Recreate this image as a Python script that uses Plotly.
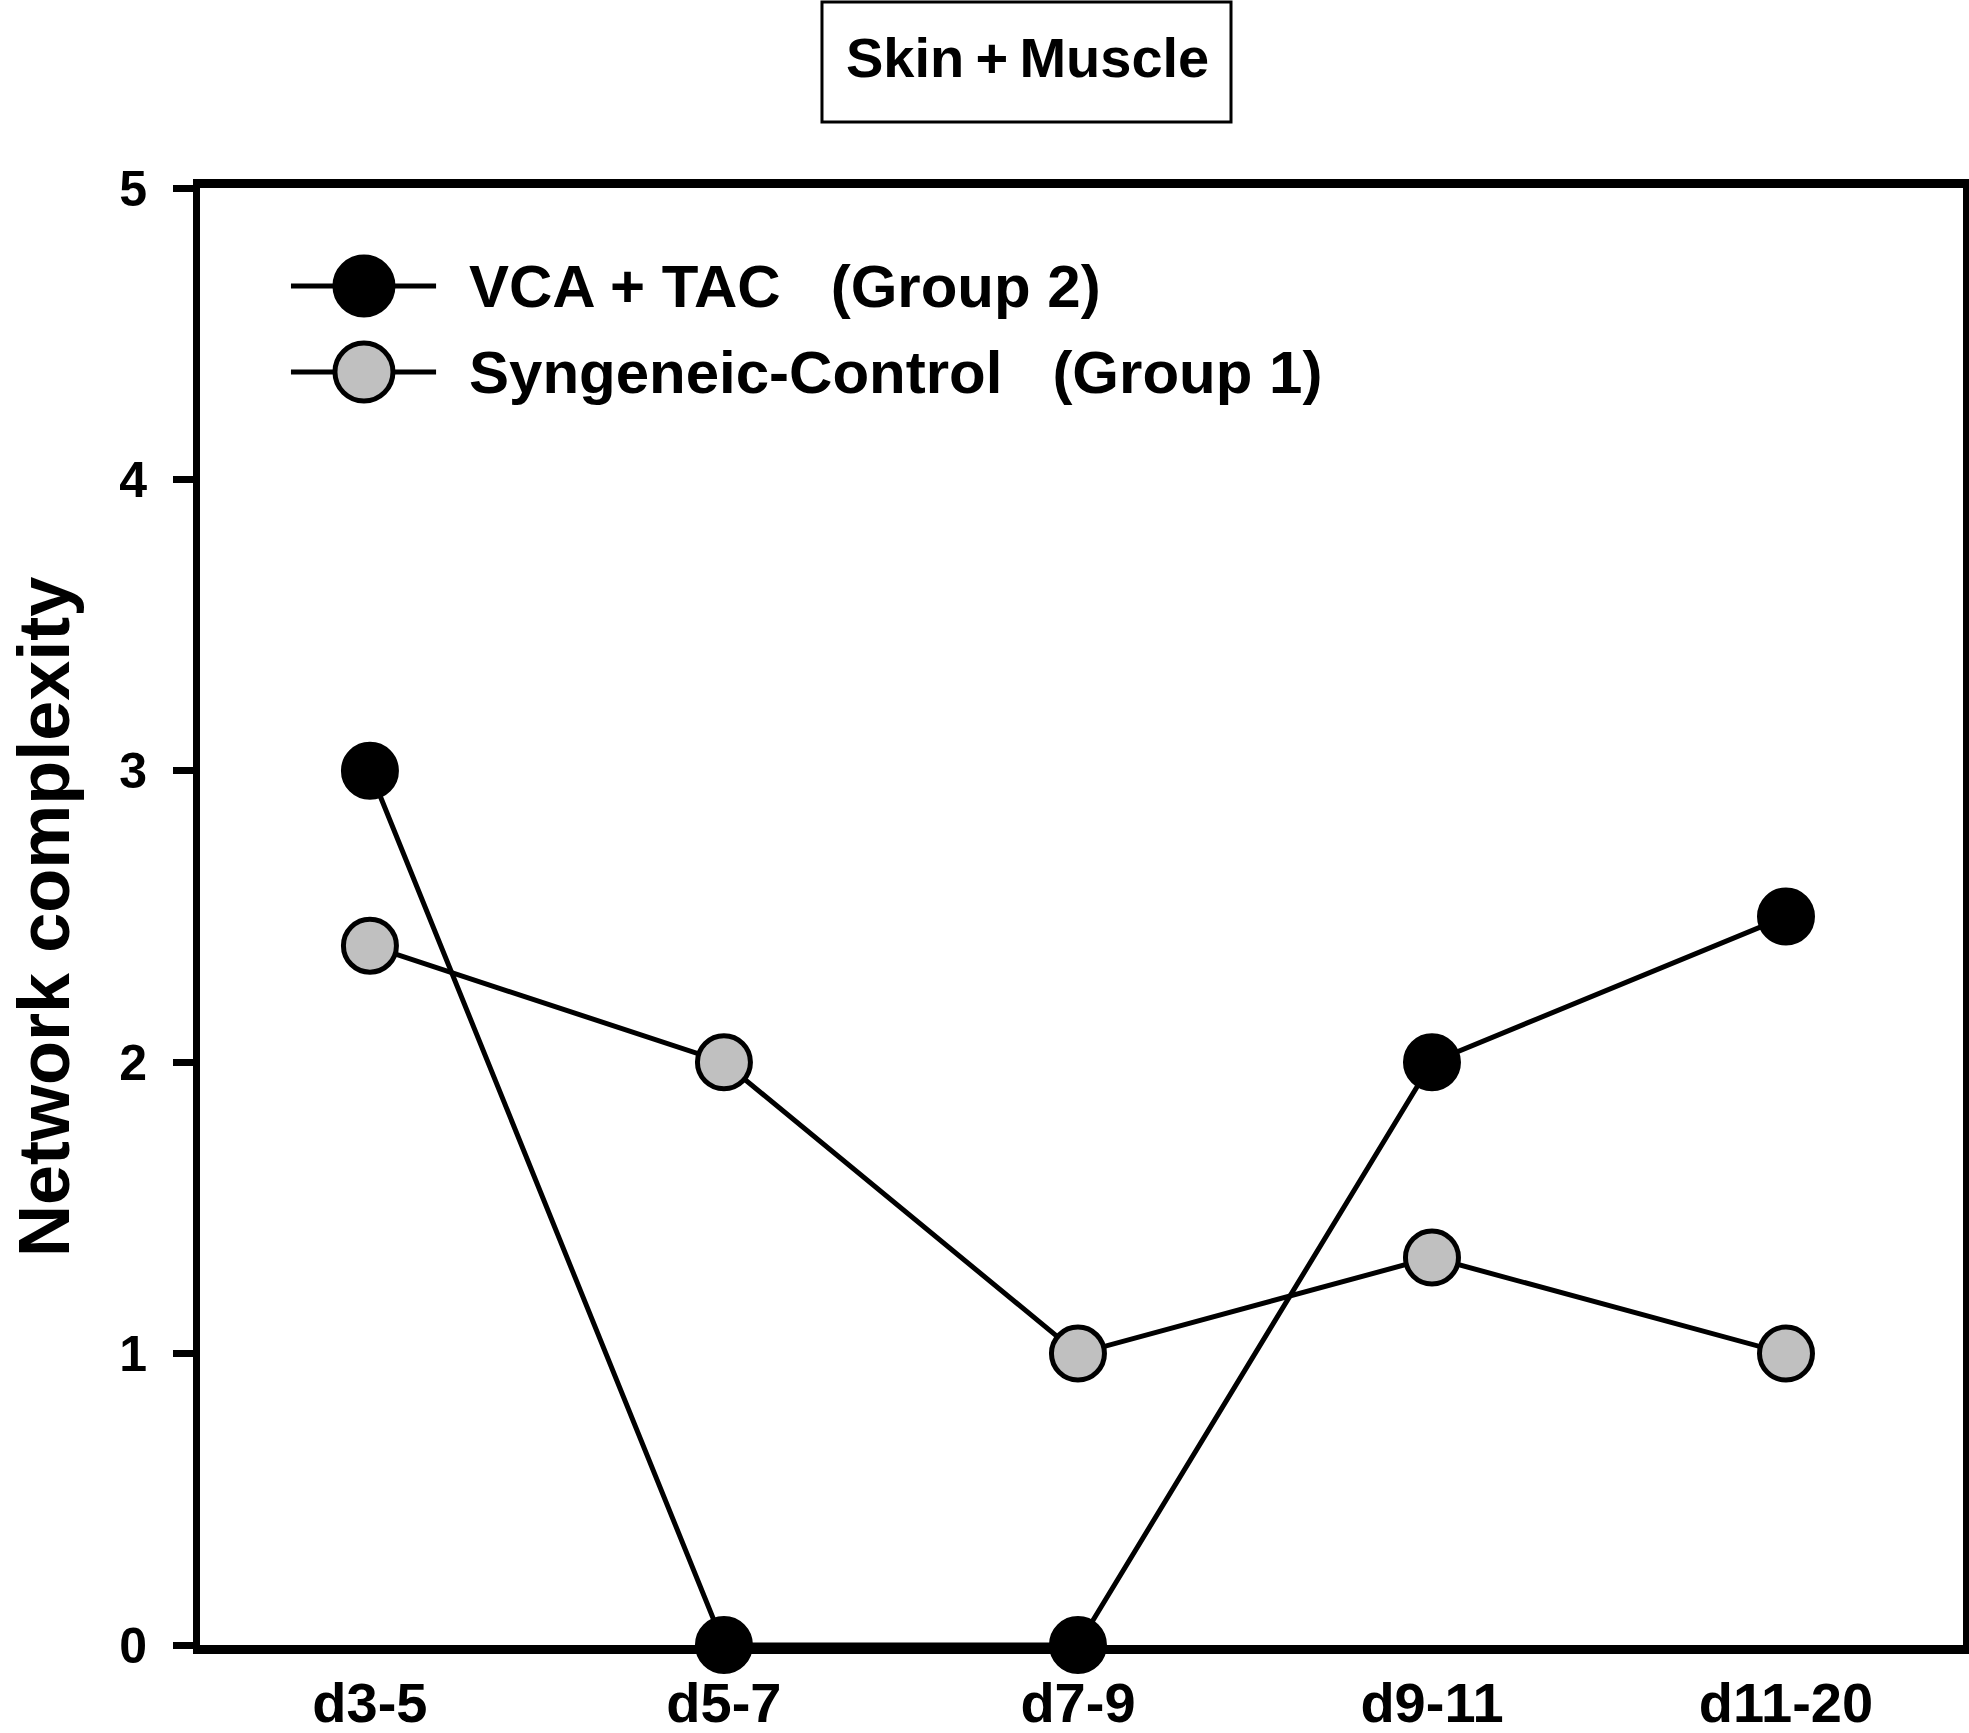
import plotly.graph_objects as go

periods = ["d3-5", "d5-7", "d7-9", "d9-11", "d11-20"]
vca_tac = [3.0, 0.0, 0.0, 2.0, 2.5]
syngeneic = [2.4, 2.0, 1.0, 1.33, 1.0]
y_ticks = [0, 1, 2, 3, 4, 5]

FONT = "Liberation Sans"
GREY = "rgb(192,192,192)"

fig = go.Figure()

fig.add_trace(go.Scatter(
    x=periods, y=syngeneic, mode="lines+markers",
    line=dict(color="black", width=5),
    marker=dict(size=53, color=GREY, line=dict(color="black", width=5)),
    cliponaxis=False, showlegend=False, name="Syngeneic-Control (Group 1)"
))
fig.add_trace(go.Scatter(
    x=periods, y=vca_tac, mode="lines+markers",
    line=dict(color="black", width=5),
    marker=dict(size=53, color="black", line=dict(color="black", width=5)),
    cliponaxis=False, showlegend=False, name="VCA + TAC (Group 2)"
))

# hand-made legend, plotly caps legend symbols at a small size
legend_rows = [("VCA + TAC\u00a0\u00a0\u00a0(Group 2)", "black", 0.9327),
               ("Syngeneic-Control\u00a0\u00a0\u00a0(Group 1)", GREY, 0.8737)]
shapes = []
annotations = []
for label, fill, yy in legend_rows:
    shapes.append(dict(type="line", xref="paper", yref="paper",
                       x0=0.0516, x1=0.1339, y0=yy, y1=yy,
                       line=dict(color="black", width=5)))
    shapes.append(dict(type="circle", xref="paper", yref="paper",
                       xsizemode="pixel", ysizemode="pixel",
                       xanchor=0.0930, yanchor=yy,
                       x0=-29, x1=29, y0=-29, y1=29,
                       fillcolor=fill, line=dict(color="black", width=5)))
    annotations.append(dict(text=label, xref="paper", yref="paper",
                            x=0.1514, y=yy, xanchor="left", yanchor="middle",
                            showarrow=False,
                            font=dict(family=FONT, size=60, color="black", weight="bold")))

# title box
shapes.append(dict(type="rect", xref="paper", yref="paper",
                   x0=0.3528, x1=0.5848, y0=1.0453, y1=1.1277,
                   line=dict(color="black", width=3), fillcolor="white"))
annotations.append(dict(text="Skin\u2009+\u2009Muscle", xref="paper", yref="paper",
                        x=0.4691, y=1.0899, xanchor="center", yanchor="middle",
                        showarrow=False,
                        font=dict(family=FONT, size=56, color="black", weight="bold")))

# y axis title
annotations.append(dict(text="Network complexity", xref="paper", yref="paper",
                        x=0.0, xshift=-156, y=0.4997, xanchor="center", yanchor="middle",
                        textangle=-90, showarrow=False,
                        font=dict(family=FONT, size=72, color="black", weight="bold")))

fig.update_layout(
    width=1969, height=1733,
    margin=dict(l=200, r=6, t=188, b=88),
    paper_bgcolor="white", plot_bgcolor="white",
    shapes=shapes, annotations=annotations,
    showlegend=False,
)
fig.update_xaxes(
    type="category", categoryorder="array", categoryarray=periods,
    range=[-0.48, 4.5], showgrid=False, zeroline=False, automargin=False,
    showline=True, linecolor="black", linewidth=9, mirror=True,
    ticks="", ticklabelstandoff=1,
    tickfont=dict(family=FONT, size=56, color="black", weight="bold"),
)
fig.update_yaxes(
    range=[0, 5], tickvals=y_ticks, showgrid=False, zeroline=False, automargin=False,
    showline=True, linecolor="black", linewidth=7, mirror=True,
    ticks="outside", ticklen=20, tickwidth=7, tickcolor="black",
    ticklabelstandoff=16,
    tickfont=dict(family=FONT, size=50, color="black", weight="bold"),
)

fig.write_html("out.html", config={"displayModeBar": False},
               post_script="document.body.style.margin='0';")
